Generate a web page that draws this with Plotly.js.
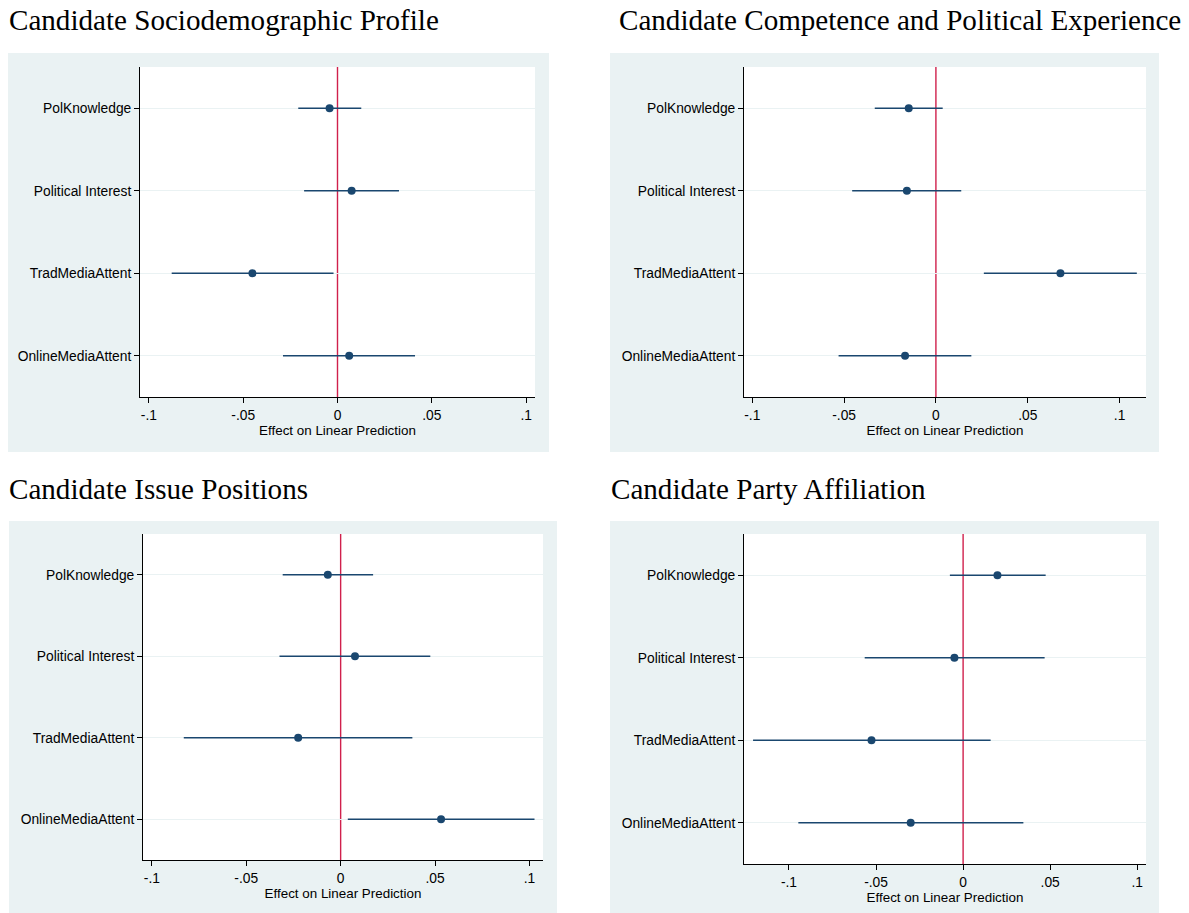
<!DOCTYPE html>
<html>
<head>
<meta charset="utf-8">
<script src="https://cdn.plot.ly/plotly-3.0.1.min.js"></script>
<style>html,body{margin:0;padding:0;background:#fff;}#chart{width:1189px;height:913px;}</style>
</head>
<body>
<div id="chart"></div>
<script>
// ---- data ----
var categories = ["PolKnowledge", "Political Interest", "TradMediaAttent", "OnlineMediaAttent"];
var panelTitles = ["Candidate Sociodemographic Profile", "Candidate Competence and Political Experience",
                   "Candidate Issue Positions", "Candidate Party Affiliation"];
var xTickVals = [-0.1, -0.05, 0, 0.05, 0.1];
var xTickText = ["-.1", "-.05", "0", ".05", ".1"];
var xAxisTitle = "Effect on Linear Prediction";

// Panel 1: Sociodemographic Profile
var est1 = [-0.0042, 0.0075, -0.0451, 0.0062];
var lo1  = [-0.0208, -0.0177, -0.0879, -0.0289];
var hi1  = [0.0126, 0.0326, -0.0021, 0.0411];
// Panel 2: Competence and Political Experience
var est2 = [-0.0148, -0.0158, 0.0678, -0.0168];
var lo2  = [-0.0333, -0.0456, 0.0261, -0.0530];
var hi2  = [0.0037, 0.0138, 0.1094, 0.0193];
// Panel 3: Issue Positions
var est3 = [-0.0068, 0.0076, -0.0225, 0.0532];
var lo3  = [-0.0307, -0.0324, -0.0831, 0.0038];
var hi3  = [0.0172, 0.0475, 0.0380, 0.1027];
// Panel 4: Party Affiliation
var est4 = [0.0197, -0.0050, -0.0526, -0.0301];
var lo4  = [-0.0076, -0.0565, -0.1206, -0.0946];
var hi4  = [0.0474, 0.0468, 0.0158, 0.0346];

var ests = [est1, est2, est3, est4];
var los = [lo1, lo2, lo3, lo4];
var his = [hi1, hi2, hi3, hi4];

// ---- layout geometry (pixels) ----
var W = 1189, H = 913;
function px(x){ return x / W; }
function py(y){ return 1 - y / H; }
var plotBoxes = [ // [left, top, right, bottom]
  [140, 67, 535, 397],
  [744, 67, 1146, 397],
  [143, 534, 543, 860],
  [744, 534, 1146, 864]
];
var bgBoxes = [
  [8, 53, 549, 452],
  [610, 53, 1159, 452],
  [9, 521, 557, 913],
  [610, 521, 1159, 913]
];
var xRanges = [[-0.1047, 0.1047], [-0.1045, 0.1144], [-0.1047, 0.1072], [-0.1258, 0.1050]];
var titlePos = [[7, 20], [617, 20], [7, 489], [609, 489]];

var navy = "#1a476f";
var red = "#d0204c";
var bgCol = "#eaf2f3";
var sans = "Liberation Sans, Arial, sans-serif";
var serif = "Liberation Serif, Times New Roman, serif";

var traces = [];
var layout = {
  width: W, height: H,
  margin: {l: 0, r: 0, t: 0, b: 0},
  paper_bgcolor: "#ffffff",
  plot_bgcolor: "#ffffff",
  showlegend: false,
  shapes: [],
  annotations: []
};

for (var i = 0; i < 4; i++) {
  var n = i + 1;
  var xa = n === 1 ? "x" : "x" + n;
  var ya = n === 1 ? "y" : "y" + n;
  var plus = [], minus = [];
  for (var k = 0; k < categories.length; k++) {
    plus.push(his[i][k] - ests[i][k]);
    minus.push(ests[i][k] - los[i][k]);
  }
  traces.push({
    type: "scatter", mode: "markers",
    x: ests[i], y: categories,
    xaxis: xa, yaxis: ya,
    marker: {color: navy, size: 8},
    error_x: {type: "data", symmetric: false, array: plus, arrayminus: minus,
              color: navy, thickness: 1.4, width: 0},
    hoverinfo: "x+y"
  });
  var b = plotBoxes[i];
  layout["xaxis" + (n === 1 ? "" : n)] = {
    domain: [px(b[0]), px(b[2])],
    anchor: ya,
    range: xRanges[i],
    tickmode: "array", tickvals: xTickVals, ticktext: xTickText,
    ticks: "outside", ticklen: 5, tickwidth: 1, tickcolor: "#000",
    showline: true, linecolor: "#000", linewidth: 1,
    showgrid: false, zeroline: false,
    tickfont: {family: sans, size: 13.8, color: "#000"},
    title: {text: xAxisTitle, font: {family: sans, size: 13.4, color: "#000"}, standoff: 0},
    fixedrange: true
  };
  layout["yaxis" + (n === 1 ? "" : n)] = {
    domain: [py(b[3]), py(b[1])],
    anchor: xa,
    type: "category",
    categoryorder: "array", categoryarray: categories,
    range: [3.5, -0.5],
    ticks: "outside", ticklen: 5, tickwidth: 1, tickcolor: "#000",
    showline: true, linecolor: "#000", linewidth: 1,
    showgrid: true, gridcolor: bgCol, gridwidth: 1.2,
    zeroline: false,
    tickfont: {family: sans, size: 13.8, color: "#000"},
    fixedrange: true
  };
  var g = bgBoxes[i];
  layout.shapes.push({
    type: "rect", xref: "paper", yref: "paper", layer: "below",
    x0: px(g[0]), x1: px(g[2]), y0: py(g[3]), y1: py(g[1]),
    fillcolor: bgCol, line: {width: 0}
  });
  layout.shapes.push({
    type: "rect", xref: "paper", yref: "paper", layer: "below",
    x0: px(b[0]), x1: px(b[2]), y0: py(b[3]), y1: py(b[1]),
    fillcolor: "#ffffff", line: {width: 0}
  });
  layout.shapes.push({
    type: "line", xref: xa, yref: ya + " domain", layer: "below",
    x0: 0, x1: 0, y0: 0, y1: 1,
    line: {color: red, width: 1.4}
  });
  var t = titlePos[i];
  layout.annotations.push({
    xref: "paper", yref: "paper", x: px(t[0]), y: py(t[1]),
    xanchor: "left", yanchor: "middle", showarrow: false,
    text: panelTitles[i],
    font: {family: serif, size: 29.1, color: "#000"}
  });
}

Plotly.newPlot("chart", traces, layout, {displayModeBar: false, staticPlot: true});
</script>
</body>
</html>
